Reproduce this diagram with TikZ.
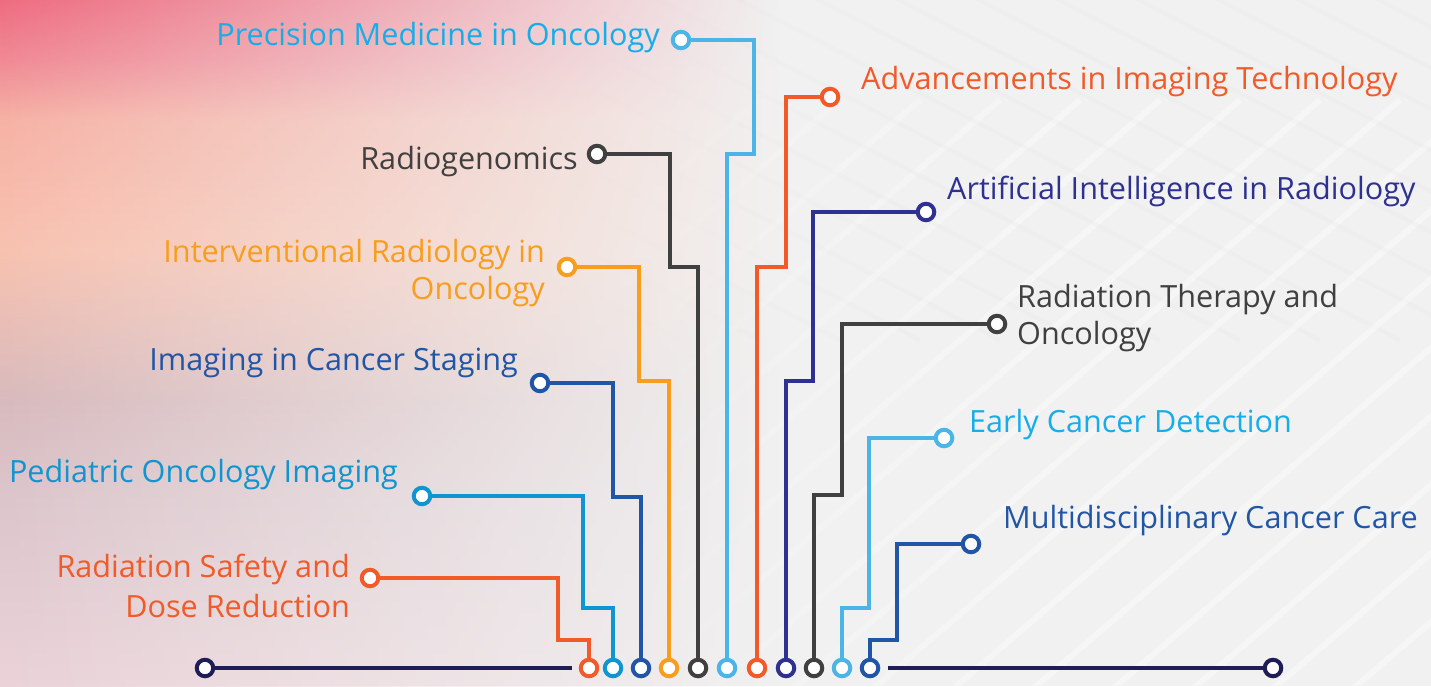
\documentclass[tikz,border=0pt]{standalone}
\usepackage{fontspec}
\setmainfont{Open Sans}
\usetikzlibrary{fadings}
\definecolor{cOR}{HTML}{F15A29}
\definecolor{cTE}{HTML}{0F95D0}
\definecolor{cBL}{HTML}{2156A6}
\definecolor{cYO}{HTML}{F99D1C}
\definecolor{cGR}{HTML}{404040}
\definecolor{cLB}{HTML}{4AB5E6}
\definecolor{cLBt}{HTML}{16ADEB}
\definecolor{cNV}{HTML}{2E3191}
\definecolor{cBASE}{HTML}{1E1D56}
\definecolor{bgbase}{HTML}{F1F1F1}
\definecolor{bg0}{HTML}{EAD2D8}
\definecolor{bg1}{HTML}{DCC6CC}
\definecolor{bg2}{HTML}{D8BABD}
\definecolor{bg3}{HTML}{F8C2B0}
\definecolor{bg4}{HTML}{F7B2A5}
\definecolor{bg5}{HTML}{F08A95}
\definecolor{bg6}{HTML}{EE6C80}
\pgfdeclareverticalshading{bgleft}{100bp}{color(0bp)=(bg0); color(25bp)=(bg0); color(38.5bp)=(bg1); color(45.8bp)=(bg2); color(56.8bp)=(bg3); color(66.3bp)=(bg4); color(70.6bp)=(bg5); color(75bp)=(bg6); color(100bp)=(bg6)}
\tikzfading[name=leftfade, left color=transparent!0, right color=transparent!100]
\begin{document}
\begin{tikzpicture}[x=1pt,y=-1pt,
  wire/.style={line width=4pt},
  ring/.style={circle,draw=#1,fill=white,line width=4pt,minimum size=16.5pt,inner sep=0pt},
  lbl/.style={text=#1,font=\fontsize{30.6}{36}\selectfont,inner sep=0pt},
  lblL/.style={lbl=#1,anchor=base east},
  lblR/.style={lbl=#1,anchor=base west}]
\useasboundingbox (0,0) rectangle (1431,686);
% background
\fill[bgbase] (0,0) rectangle (1431,686);
\begin{scope}
  \clip (600,0) rectangle (1431,686);
  \foreach \i in {-10,...,16}{
    \draw[white,opacity=.4,line width=6pt] (700+\i*80,700) -- ++(700,-600);
    \draw[black!10,opacity=.2,line width=4pt] (700+\i*80,-20) -- ++(700,360);
  }
\end{scope}
\fill[bgbase, path fading=leftfade] (600,0) rectangle (1000,686);
\shade[shading=bgleft, path fading=leftfade] (0,0) rectangle (780,686);
% text
\node[lblL=cLBt] (tP) at (660,45) {Precision Medicine in Oncology};
\node[lblL=cGR] (tRg) at (578,169) {Radiogenomics};
\node[lblL=cYO] (tIa) at (545,262) {Interventional Radiology in};
\node[lblL=cYO] (tIb) at (545,299) {Oncology};
\node[lblL=cBL] (tIm) at (518,370) {Imaging in Cancer Staging};
\node[lblL=cTE] (tPe) at (398,482) {Pediatric Oncology Imaging};
\node[lblL=cOR] (tSa) at (350,577) {Radiation Safety and};
\node[lblL=cOR] (tSb) at (350,617) {Dose Reduction};
\node[lblR=cOR] (tAd) at (861,89) {Advancements in Imaging Technology};
\node[lblR=cNV] (tAI) at (947,199) {Artificial Intelligence in Radiology};
\node[lblR=cGR] (tTa) at (1017,307) {Radiation Therapy and};
\node[lblR=cGR] (tTb) at (1017,344) {Oncology};
\node[lblR=cLBt] (tEa) at (969,432) {Early Cancer Detection};
\node[lblR=cBL] (tMu) at (1003,528) {Multidisciplinary Cancer Care};
% top rings
\node[ring=cOR] (r1) at (370,578) {};
\node[ring=cTE] (r2) at (422,496) {};
\node[ring=cBL] (r3) at (540,383) {};
\node[ring=cYO] (r4) at (567,267) {};
\node[ring=cGR] (r5) at (597,154) {};
\node[ring=cLB] (r6) at (681,40) {};
\node[ring=cOR] (r7) at (830,97) {};
\node[ring=cNV] (r8) at (926,212) {};
\node[ring=cGR] (r9) at (997,324) {};
\node[ring=cLB] (r10) at (944,438) {};
\node[ring=cBL] (r11) at (971,544) {};
% bottom rings
\node[ring=cOR] (b1) at (589,668) {};
\node[ring=cTE] (b2) at (613,668) {};
\node[ring=cBL] (b3) at (641,668) {};
\node[ring=cYO] (b4) at (669,668) {};
\node[ring=cGR] (b5) at (698,668) {};
\node[ring=cLB] (b6) at (727,668) {};
\node[ring=cOR] (b7) at (757,668) {};
\node[ring=cNV] (b8) at (786,668) {};
\node[ring=cGR] (b9) at (814,668) {};
\node[ring=cLB] (b10) at (842,668) {};
\node[ring=cBL] (b11) at (870,668) {};
\node[ring=cBASE] (L) at (205,668) {};
\node[ring=cBASE] (R) at (1273,668) {};
\coordinate (Le) at (572,668);
\coordinate (Rs) at (888,668);
% wires
\draw[wire,cOR] (r1.east) -| (558,640) -| (b1.north);
\draw[wire,cTE] (r2.east) -| (583,608) -| (b2.north);
\draw[wire,cBL] (r3.east) -| (613,497) -| (b3.north);
\draw[wire,cYO] (r4.east) -| (639,381) -| (b4.north);
\draw[wire,cGR] (r5.east) -| (670,267) -| (b5.north);
\draw[wire,cLB] (r6.east) -| (754,154) -| (b6.north);
\draw[wire,cOR] (r7.west) -| (786,267) -| (b7.north);
\draw[wire,cNV] (r8.west) -| (813,381) -| (b8.north);
\draw[wire,cGR] (r9.west) -| (842,495) -| (b9.north);
\draw[wire,cLB] (r10.west) -| (869,608) -| (b10.north);
\draw[wire,cBL] (r11.west) -| (897,640) -| (b11.north);
\draw[wire,cBASE] (L.east) -- (Le);
\draw[wire,cBASE] (Rs) -- (R.west);
\end{tikzpicture}
\end{document}
